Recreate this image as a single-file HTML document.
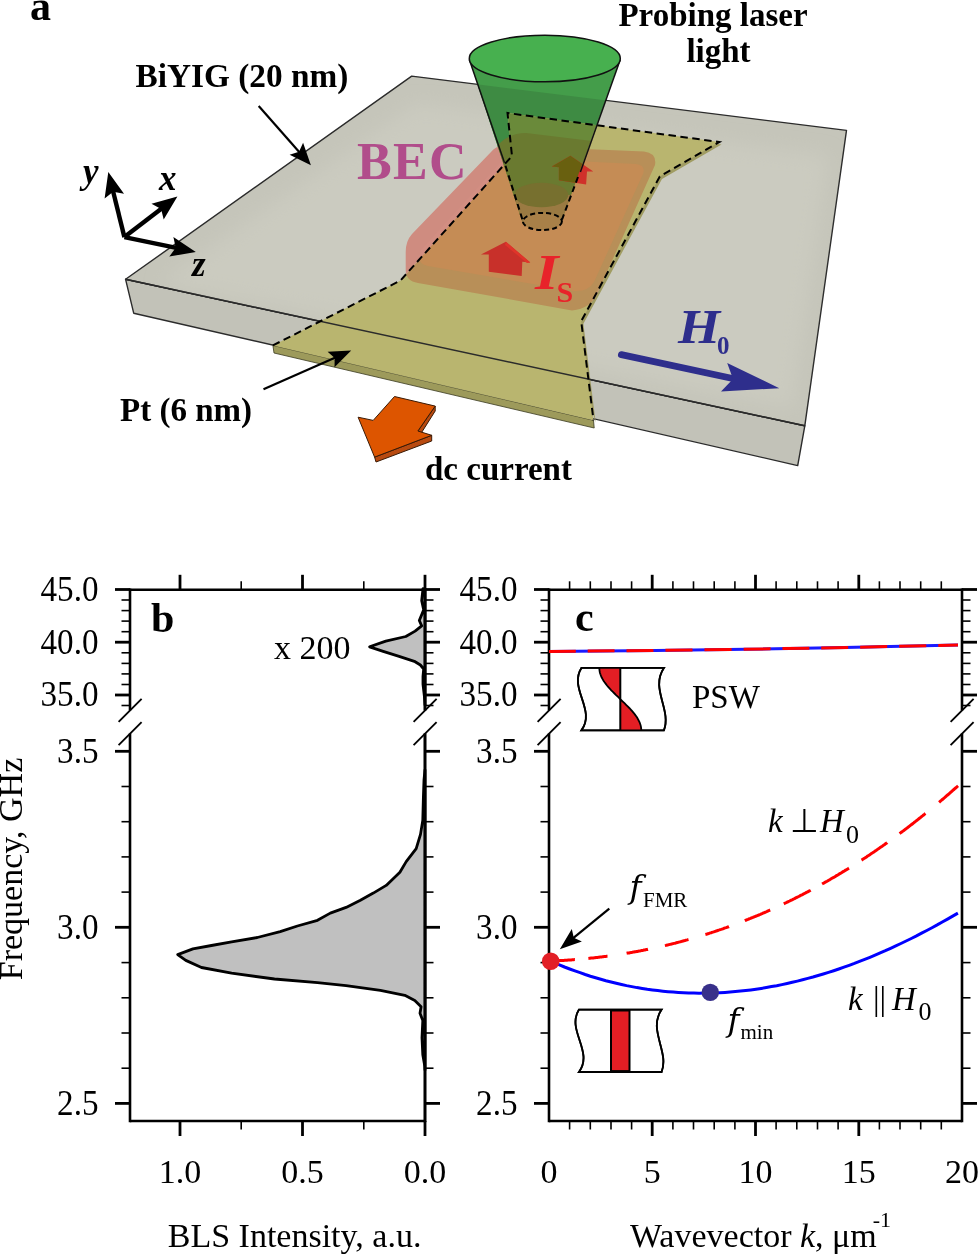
<!DOCTYPE html>
<html><head><meta charset="utf-8"><title>Figure</title><style>html,body{margin:0;padding:0;background:#fff;overflow:hidden}svg{display:block}</style></head><body>
<svg width="978" height="1254" viewBox="0 0 978 1254" font-family="'Liberation Serif', 'Times New Roman', serif"><defs>
<clipPath id="cSlab"><polygon points="411.7,76.1 846.5,130.4 804.8,425.8 125.6,279.3"/></clipPath>
<clipPath id="cPt"><polygon points="272.9,345.4 400.5,280.5 512,156 507.5,113 719.3,142 659.8,176.4 581.2,321.2 593.5,420.3"/></clipPath>
<clipPath id="cNoPt"><path clip-rule="evenodd" d="M0,0 H978 V560 H0 Z M272.9,345.4 L400.5,280.5 L512,156 L507.5,113 L719.3,142 L659.8,176.4 L581.2,321.2 L593.5,420.3 Z"/></clipPath>
<clipPath id="cCone"><polygon points="469.3,59.4 620.3,59.4 562,219.6 522.9,223.4"/></clipPath>
<clipPath id="cBec"><path d="M405.7,252 Q405.7,241 412,234 L491,152 Q496,145.5 505,145.7 L644,151.5 Q657,153 655,165 L598,292 Q591,309 572,310.4 L418,283 Q405.7,281 405.7,270 Z"/></clipPath>
<filter id="blur8" x="-20%" y="-20%" width="140%" height="140%"><feGaussianBlur stdDeviation="9"/></filter>
</defs>
<polygon points="125.6,279.3 804.8,425.8 797.7,465.6 133.7,313.2" fill="#c2c2b8" stroke="#2b2b2b" stroke-width="1.4" stroke-linejoin="round"/>
<polygon points="411.7,76.1 846.5,130.4 804.8,425.8 125.6,279.3" fill="#c5c5ba" stroke="#2b2b2b" stroke-width="1.4" stroke-linejoin="round"/>
<g clip-path="url(#cSlab)"><polygon points="416,104 828,156 792,408 160,283" fill="#cbcbc0" filter="url(#blur8)"/></g>
<polygon points="469.3,59.4 620.3,59.4 562,219.6 522.9,223.4" fill="#449d4a"/>
<g clip-path="url(#cSlab)"><polygon points="469.3,59.4 620.3,59.4 562,219.6 522.9,223.4" fill="#3e8b43"/></g>
<polygon points="272.9,345.4 593.5,420.3 594.2,428 274,353" fill="#9d9a5b" stroke="#3a3a20" stroke-width="0.8"/>
<polygon points="507.5,113 719.3,142 659.8,176.4 581.2,321.2 593.5,420.3" fill="#a09c62" transform="translate(2.2,2.5)"/>
<polygon points="272.9,345.4 400.5,280.5 512,156 507.5,113 719.3,142 659.8,176.4 581.2,321.2 593.5,420.3" fill="#b9b56f"/>
<g clip-path="url(#cCone)"><polygon points="272.9,345.4 400.5,280.5 512,156 507.5,113 719.3,142 659.8,176.4 581.2,321.2 593.5,420.3" fill="#6a8a3a"/></g>
<line x1="125.6" y1="279.3" x2="804.8" y2="425.8" stroke="#2b2b2b" stroke-width="1.4"/>
<g clip-path="url(#cNoPt)"><path d="M405.7,252 Q405.7,241 412,234 L491,152 Q496,145.5 505,145.7 L644,151.5 Q657,153 655,165 L598,292 Q591,309 572,310.4 L418,283 Q405.7,281 405.7,270 Z" fill="#cf8c80"/><path d="M421,250 L500,163 Q505,158 513,158 L636,164 Q646,165 643,174 L594,282 Q588,292 574,291 L428,266 Q419,264 419,257 Z" fill="#d28e82"/></g>
<g clip-path="url(#cPt)"><path d="M405.7,252 Q405.7,241 412,234 L491,152 Q496,145.5 505,145.7 L644,151.5 Q657,153 655,165 L598,292 Q591,309 572,310.4 L418,283 Q405.7,281 405.7,270 Z" fill="#b88f58"/><path d="M421,250 L500,163 Q505,158 513,158 L636,164 Q646,165 643,174 L594,282 Q588,292 574,291 L428,266 Q419,264 419,257 Z" fill="#c58c55"/></g>
<g clip-path="url(#cCone)"><path d="M405.7,252 Q405.7,241 412,234 L491,152 Q496,145.5 505,145.7 L644,151.5 Q657,153 655,165 L598,292 Q591,309 572,310.4 L418,283 Q405.7,281 405.7,270 Z" fill="#6a7a30"/><path d="M494,150 Q506,133 526,133 L600,142 L600,240 L494,240 Z" fill="#6a7a30"/></g>
<g clip-path="url(#cCone)"><rect x="460" y="195" width="170" height="40" fill="#9a7a42"/></g>
<ellipse cx="541.4" cy="195" rx="26.9" ry="12.3" fill="#77702f"/>
<ellipse cx="542.4" cy="221.5" rx="19.5" ry="8.6" fill="#a88048"/>
<polyline points="272.9,345.4 400.5,280.5 512,156 507.5,113 719.3,142 659.8,176.4 581.2,321.2 593.5,420.3" fill="none" stroke="#000" stroke-width="2" stroke-dasharray="7.5 4.5"/>
<polygon points="505.9,241.7 481,254.6 488.8,254.6 488.8,271.8 521.7,276.1 522.3,261.7 530.3,262.6" fill="#c8302a"/>
<polygon points="505.9,241.7 530.3,262.6 527,263 505,245" fill="#e0342a"/>
<polygon points="570.4,155.8 551.8,166.4 558.9,167.3 558.9,180.2 586.1,184.5 587,171.6 593.3,171.6" fill="#d0302a"/>
<g clip-path="url(#cCone)"><polygon points="570.4,155.8 551.8,166.4 558.9,167.3 558.9,180.2 586.1,184.5 587,171.6 593.3,171.6" fill="#69600f"/></g>
<line x1="469.3" y1="59.4" x2="504.5" y2="162.8" stroke="#111" stroke-width="1.5"/>
<line x1="620.3" y1="59.4" x2="580.4" y2="172" stroke="#111" stroke-width="1.5"/>
<line x1="505.5" y1="165.8" x2="522.9" y2="221" stroke="#000" stroke-width="2" stroke-dasharray="6 4"/>
<line x1="578" y1="177" x2="562" y2="219.6" stroke="#000" stroke-width="2" stroke-dasharray="6 4"/>
<ellipse cx="542.4" cy="221.5" rx="19.5" ry="8.6" fill="none" stroke="#000" stroke-width="2" stroke-dasharray="5 3"/>
<ellipse cx="544.8" cy="58.5" rx="75.5" ry="23.3" fill="#47b04f" stroke="#111" stroke-width="1.5"/>
<text x="30" y="19.5" font-size="42" font-weight="bold">a</text>
<text x="135.6" y="86.8" font-size="33.3" font-weight="bold">BiYIG (20 nm)</text>
<text x="713" y="26.3" font-size="33" font-weight="bold" text-anchor="middle">Probing laser</text>
<text x="718.5" y="61.9" font-size="33" font-weight="bold" text-anchor="middle">light</text>
<text x="357" y="179.4" font-size="52" font-weight="bold" fill="#b14d8b" letter-spacing="1.3">BEC</text>
<text x="120" y="421.1" font-size="33" font-weight="bold">Pt (6 nm)</text>
<text x="425" y="479.7" font-size="33" font-weight="bold">dc current</text>
<line x1="258.7" y1="106" x2="303.6" y2="157" stroke="#000" stroke-width="2.2"/><polygon points="310.9,165.3 289.6,154.7 299,151.8 303.1,142.8" fill="#000"/>
<line x1="263.5" y1="389.2" x2="341.1" y2="355" stroke="#000" stroke-width="2.2"/><polygon points="351.2,350.6 334.5,367.2 334.7,357.9 327.6,351.7" fill="#000"/>
<line x1="124.4" y1="237.1" x2="111.3" y2="184" stroke="#000" stroke-width="4.4"/><polygon points="108.3,171.9 124,193.8 113.2,191.8 104.6,198.6" fill="#000"/>
<line x1="124.4" y1="237.1" x2="167.5" y2="204" stroke="#000" stroke-width="4.4"/><polygon points="177.4,196.4 163.7,219.6 161.1,208.9 151.5,203.7" fill="#000"/>
<line x1="124.4" y1="237.1" x2="183.6" y2="249.4" stroke="#000" stroke-width="4.4"/><polygon points="195.8,251.9 169.3,256.6 175.7,247.7 173.4,237" fill="#000"/>
<text x="83" y="183" font-size="35" font-weight="bold" font-style="italic">y</text>
<text x="159" y="189.5" font-size="35" font-weight="bold" font-style="italic">x</text>
<text x="192" y="276" font-size="35" font-weight="bold" font-style="italic">z</text>
<line x1="621.3" y1="354.6" x2="735" y2="379" stroke="#2e2e8c" stroke-width="6.7" stroke-linecap="round"/>
<polygon points="779.3,388.3 727.2,362.9 733,379 721,391.4" fill="#2e2e8c"/>
<text transform="translate(678,343) scale(1.13,1)" font-size="48" font-weight="bold" font-style="italic" fill="#2e2e8c">H</text>
<text x="717" y="353.7" font-size="25" font-weight="bold" fill="#2e2e8c">0</text>
<text transform="translate(535,289) scale(1.21,1)" font-size="50" font-weight="bold" font-style="italic" fill="#e8232a">I</text>
<text x="556.5" y="301.5" font-size="30" font-weight="bold" fill="#e8232a">S</text>
<polygon points="374.6,457.1 431.7,435.3 431.7,441 376,462" fill="#b84a10" stroke="#3a1a05" stroke-width="1"/>
<polygon points="435.2,406.1 435.2,411 420,435 417.9,431" fill="#b84a10" stroke="#3a1a05" stroke-width="1"/>
<polygon points="374.6,457.1 358.1,417.2 373.2,420.4 394.5,396.5 435.2,406.1 417.9,431 431.7,435.3" fill="#dd5500" stroke="#3a1a05" stroke-width="1" stroke-linejoin="round"/>
<line x1="130" y1="588.5" x2="130" y2="710.4" stroke="#000" stroke-width="2.6"/><line x1="130" y1="733.6" x2="130" y2="1122.3" stroke="#000" stroke-width="2.6"/><line x1="118.6" y1="721.9" x2="141.6" y2="698.9" stroke="#000" stroke-width="1.8"/><line x1="118.6" y1="745.1" x2="141.6" y2="722.1" stroke="#000" stroke-width="1.8"/><line x1="425" y1="588.5" x2="425" y2="710.4" stroke="#000" stroke-width="2.6"/><line x1="425" y1="733.6" x2="425" y2="1122.3" stroke="#000" stroke-width="2.6"/><line x1="413.6" y1="721.9" x2="436.6" y2="698.9" stroke="#000" stroke-width="1.8"/><line x1="413.6" y1="745.1" x2="436.6" y2="722.1" stroke="#000" stroke-width="1.8"/><line x1="130" y1="589.8" x2="425" y2="589.8" stroke="#000" stroke-width="2.6"/><line x1="130" y1="1121" x2="425" y2="1121" stroke="#000" stroke-width="2.6"/><line x1="180" y1="589.8" x2="180" y2="574.8" stroke="#000" stroke-width="2.8"/><line x1="180" y1="1121" x2="180" y2="1136" stroke="#000" stroke-width="2.8"/><line x1="302.5" y1="589.8" x2="302.5" y2="574.8" stroke="#000" stroke-width="2.8"/><line x1="302.5" y1="1121" x2="302.5" y2="1136" stroke="#000" stroke-width="2.8"/><line x1="425" y1="589.8" x2="425" y2="574.8" stroke="#000" stroke-width="2.8"/><line x1="425" y1="1121" x2="425" y2="1136" stroke="#000" stroke-width="2.8"/><line x1="241.2" y1="589.8" x2="241.2" y2="581.3" stroke="#000" stroke-width="1.6"/><line x1="241.2" y1="1121" x2="241.2" y2="1129.5" stroke="#000" stroke-width="1.6"/><line x1="363.8" y1="589.8" x2="363.8" y2="581.3" stroke="#000" stroke-width="1.6"/><line x1="363.8" y1="1121" x2="363.8" y2="1129.5" stroke="#000" stroke-width="1.6"/><line x1="115" y1="589.5" x2="130" y2="589.5" stroke="#000" stroke-width="2.8"/><line x1="425" y1="589.5" x2="440" y2="589.5" stroke="#000" stroke-width="2.8"/><line x1="115" y1="642.2" x2="130" y2="642.2" stroke="#000" stroke-width="2.8"/><line x1="425" y1="642.2" x2="440" y2="642.2" stroke="#000" stroke-width="2.8"/><line x1="115" y1="695" x2="130" y2="695" stroke="#000" stroke-width="2.8"/><line x1="425" y1="695" x2="440" y2="695" stroke="#000" stroke-width="2.8"/><line x1="115" y1="751.3" x2="130" y2="751.3" stroke="#000" stroke-width="2.8"/><line x1="425" y1="751.3" x2="440" y2="751.3" stroke="#000" stroke-width="2.8"/><line x1="115" y1="927.3" x2="130" y2="927.3" stroke="#000" stroke-width="2.8"/><line x1="425" y1="927.3" x2="440" y2="927.3" stroke="#000" stroke-width="2.8"/><line x1="115" y1="1103.4" x2="130" y2="1103.4" stroke="#000" stroke-width="2.8"/><line x1="425" y1="1103.4" x2="440" y2="1103.4" stroke="#000" stroke-width="2.8"/><line x1="121.5" y1="705.5" x2="130" y2="705.5" stroke="#000" stroke-width="1.6"/><line x1="425" y1="705.5" x2="433.5" y2="705.5" stroke="#000" stroke-width="1.6"/><line x1="121.5" y1="684.5" x2="130" y2="684.5" stroke="#000" stroke-width="1.6"/><line x1="425" y1="684.5" x2="433.5" y2="684.5" stroke="#000" stroke-width="1.6"/><line x1="121.5" y1="673.9" x2="130" y2="673.9" stroke="#000" stroke-width="1.6"/><line x1="425" y1="673.9" x2="433.5" y2="673.9" stroke="#000" stroke-width="1.6"/><line x1="121.5" y1="663.4" x2="130" y2="663.4" stroke="#000" stroke-width="1.6"/><line x1="425" y1="663.4" x2="433.5" y2="663.4" stroke="#000" stroke-width="1.6"/><line x1="121.5" y1="652.8" x2="130" y2="652.8" stroke="#000" stroke-width="1.6"/><line x1="425" y1="652.8" x2="433.5" y2="652.8" stroke="#000" stroke-width="1.6"/><line x1="121.5" y1="631.7" x2="130" y2="631.7" stroke="#000" stroke-width="1.6"/><line x1="425" y1="631.7" x2="433.5" y2="631.7" stroke="#000" stroke-width="1.6"/><line x1="121.5" y1="621.1" x2="130" y2="621.1" stroke="#000" stroke-width="1.6"/><line x1="425" y1="621.1" x2="433.5" y2="621.1" stroke="#000" stroke-width="1.6"/><line x1="121.5" y1="610.6" x2="130" y2="610.6" stroke="#000" stroke-width="1.6"/><line x1="425" y1="610.6" x2="433.5" y2="610.6" stroke="#000" stroke-width="1.6"/><line x1="121.5" y1="600" x2="130" y2="600" stroke="#000" stroke-width="1.6"/><line x1="425" y1="600" x2="433.5" y2="600" stroke="#000" stroke-width="1.6"/><line x1="121.5" y1="1068.2" x2="130" y2="1068.2" stroke="#000" stroke-width="1.6"/><line x1="425" y1="1068.2" x2="433.5" y2="1068.2" stroke="#000" stroke-width="1.6"/><line x1="121.5" y1="1033" x2="130" y2="1033" stroke="#000" stroke-width="1.6"/><line x1="425" y1="1033" x2="433.5" y2="1033" stroke="#000" stroke-width="1.6"/><line x1="121.5" y1="997.8" x2="130" y2="997.8" stroke="#000" stroke-width="1.6"/><line x1="425" y1="997.8" x2="433.5" y2="997.8" stroke="#000" stroke-width="1.6"/><line x1="121.5" y1="962.6" x2="130" y2="962.6" stroke="#000" stroke-width="1.6"/><line x1="425" y1="962.6" x2="433.5" y2="962.6" stroke="#000" stroke-width="1.6"/><line x1="121.5" y1="892.1" x2="130" y2="892.1" stroke="#000" stroke-width="1.6"/><line x1="425" y1="892.1" x2="433.5" y2="892.1" stroke="#000" stroke-width="1.6"/><line x1="121.5" y1="856.9" x2="130" y2="856.9" stroke="#000" stroke-width="1.6"/><line x1="425" y1="856.9" x2="433.5" y2="856.9" stroke="#000" stroke-width="1.6"/><line x1="121.5" y1="821.7" x2="130" y2="821.7" stroke="#000" stroke-width="1.6"/><line x1="425" y1="821.7" x2="433.5" y2="821.7" stroke="#000" stroke-width="1.6"/><line x1="121.5" y1="786.5" x2="130" y2="786.5" stroke="#000" stroke-width="1.6"/><line x1="425" y1="786.5" x2="433.5" y2="786.5" stroke="#000" stroke-width="1.6"/>
<text transform="translate(98.5,600.8) scale(0.975,1.04)" text-anchor="end" font-size="34">45.0</text><text transform="translate(98.5,653.5) scale(0.975,1.04)" text-anchor="end" font-size="34">40.0</text><text transform="translate(98.5,706.3) scale(0.975,1.04)" text-anchor="end" font-size="34">35.0</text><text transform="translate(98.5,762.6) scale(0.975,1.04)" text-anchor="end" font-size="34">3.5</text><text transform="translate(98.5,938.6) scale(0.975,1.04)" text-anchor="end" font-size="34">3.0</text><text transform="translate(98.5,1114.7) scale(0.975,1.04)" text-anchor="end" font-size="34">2.5</text>
<text x="180" y="1182.8" text-anchor="middle" font-size="34">1.0</text>
<text x="302.5" y="1182.8" text-anchor="middle" font-size="34">0.5</text>
<text x="425" y="1182.8" text-anchor="middle" font-size="34">0.0</text>
<text x="294.6" y="1247.3" text-anchor="middle" font-size="34">BLS Intensity, a.u.</text>
<text transform="translate(22.3,869) rotate(-90)" text-anchor="middle" font-size="34">Frequency, GHz</text>
<text x="151" y="632" font-size="42" font-weight="bold">b</text>
<text x="274" y="658.9" font-size="34">x 200</text>
<polygon points="425,589.5 423,588.6 421.7,600.6 423.7,609.9 419.3,620.5 421.7,625.8 415.1,631.1 405.8,636.5 385.8,641.1 369.6,646.8 383.2,651.4 399.1,656.4 415.1,661.7 420.4,665 423.7,669 423,676.3 423,684.3 424.4,696.3 425,705" fill="#c0c0c0" stroke="#000" stroke-width="2.8" stroke-linejoin="round"/>
<polygon points="425,770 424,780 423.4,797.2 422.8,820.1 420.5,834.4 416.2,848.7 406.2,861.6 399.9,872.2 386.2,885.4 373.3,893.1 360.4,900.2 346.1,907.4 330.3,913.1 317.5,920.3 297.4,926 280.2,931.7 257.3,937.5 231.6,941.8 211.5,945.5 192.9,948.9 177.7,954.6 185.8,960.4 201.5,967.5 231.6,973.2 274.5,979 317.5,982.7 346.1,985.6 380.4,990.4 404.8,995.3 414.8,1000.4 421.1,1006.7 420,1013.3 422.8,1020.5 422,1037.7 422.8,1054.8 424.8,1066.3 425,1070" fill="#c0c0c0" stroke="#000" stroke-width="2.8" stroke-linejoin="round"/>
<line x1="425" y1="588" x2="425" y2="710.4" stroke="#000" stroke-width="2.6"/>
<line x1="425" y1="733.6" x2="425" y2="1122" stroke="#000" stroke-width="2.6"/>
<line x1="549" y1="588.5" x2="549" y2="710.4" stroke="#000" stroke-width="2.6"/><line x1="549" y1="733.6" x2="549" y2="1122.3" stroke="#000" stroke-width="2.6"/><line x1="537.6" y1="721.9" x2="560.6" y2="698.9" stroke="#000" stroke-width="1.8"/><line x1="537.6" y1="745.1" x2="560.6" y2="722.1" stroke="#000" stroke-width="1.8"/><line x1="962" y1="588.5" x2="962" y2="710.4" stroke="#000" stroke-width="2.6"/><line x1="962" y1="733.6" x2="962" y2="1122.3" stroke="#000" stroke-width="2.6"/><line x1="950.6" y1="721.9" x2="973.6" y2="698.9" stroke="#000" stroke-width="1.8"/><line x1="950.6" y1="745.1" x2="973.6" y2="722.1" stroke="#000" stroke-width="1.8"/><line x1="549" y1="589.8" x2="962" y2="589.8" stroke="#000" stroke-width="2.6"/><line x1="549" y1="1121" x2="962" y2="1121" stroke="#000" stroke-width="2.6"/><line x1="652.2" y1="589.8" x2="652.2" y2="574.8" stroke="#000" stroke-width="2.8"/><line x1="652.2" y1="1121" x2="652.2" y2="1136" stroke="#000" stroke-width="2.8"/><line x1="755.5" y1="589.8" x2="755.5" y2="574.8" stroke="#000" stroke-width="2.8"/><line x1="755.5" y1="1121" x2="755.5" y2="1136" stroke="#000" stroke-width="2.8"/><line x1="858.8" y1="589.8" x2="858.8" y2="574.8" stroke="#000" stroke-width="2.8"/><line x1="858.8" y1="1121" x2="858.8" y2="1136" stroke="#000" stroke-width="2.8"/><line x1="569.6" y1="589.8" x2="569.6" y2="581.3" stroke="#000" stroke-width="1.6"/><line x1="569.6" y1="1121" x2="569.6" y2="1129.5" stroke="#000" stroke-width="1.6"/><line x1="590.3" y1="589.8" x2="590.3" y2="581.3" stroke="#000" stroke-width="1.6"/><line x1="590.3" y1="1121" x2="590.3" y2="1129.5" stroke="#000" stroke-width="1.6"/><line x1="611" y1="589.8" x2="611" y2="581.3" stroke="#000" stroke-width="1.6"/><line x1="611" y1="1121" x2="611" y2="1129.5" stroke="#000" stroke-width="1.6"/><line x1="631.6" y1="589.8" x2="631.6" y2="581.3" stroke="#000" stroke-width="1.6"/><line x1="631.6" y1="1121" x2="631.6" y2="1129.5" stroke="#000" stroke-width="1.6"/><line x1="672.9" y1="589.8" x2="672.9" y2="581.3" stroke="#000" stroke-width="1.6"/><line x1="672.9" y1="1121" x2="672.9" y2="1129.5" stroke="#000" stroke-width="1.6"/><line x1="693.5" y1="589.8" x2="693.5" y2="581.3" stroke="#000" stroke-width="1.6"/><line x1="693.5" y1="1121" x2="693.5" y2="1129.5" stroke="#000" stroke-width="1.6"/><line x1="714.2" y1="589.8" x2="714.2" y2="581.3" stroke="#000" stroke-width="1.6"/><line x1="714.2" y1="1121" x2="714.2" y2="1129.5" stroke="#000" stroke-width="1.6"/><line x1="734.9" y1="589.8" x2="734.9" y2="581.3" stroke="#000" stroke-width="1.6"/><line x1="734.9" y1="1121" x2="734.9" y2="1129.5" stroke="#000" stroke-width="1.6"/><line x1="776.1" y1="589.8" x2="776.1" y2="581.3" stroke="#000" stroke-width="1.6"/><line x1="776.1" y1="1121" x2="776.1" y2="1129.5" stroke="#000" stroke-width="1.6"/><line x1="796.8" y1="589.8" x2="796.8" y2="581.3" stroke="#000" stroke-width="1.6"/><line x1="796.8" y1="1121" x2="796.8" y2="1129.5" stroke="#000" stroke-width="1.6"/><line x1="817.5" y1="589.8" x2="817.5" y2="581.3" stroke="#000" stroke-width="1.6"/><line x1="817.5" y1="1121" x2="817.5" y2="1129.5" stroke="#000" stroke-width="1.6"/><line x1="838.1" y1="589.8" x2="838.1" y2="581.3" stroke="#000" stroke-width="1.6"/><line x1="838.1" y1="1121" x2="838.1" y2="1129.5" stroke="#000" stroke-width="1.6"/><line x1="879.4" y1="589.8" x2="879.4" y2="581.3" stroke="#000" stroke-width="1.6"/><line x1="879.4" y1="1121" x2="879.4" y2="1129.5" stroke="#000" stroke-width="1.6"/><line x1="900" y1="589.8" x2="900" y2="581.3" stroke="#000" stroke-width="1.6"/><line x1="900" y1="1121" x2="900" y2="1129.5" stroke="#000" stroke-width="1.6"/><line x1="920.7" y1="589.8" x2="920.7" y2="581.3" stroke="#000" stroke-width="1.6"/><line x1="920.7" y1="1121" x2="920.7" y2="1129.5" stroke="#000" stroke-width="1.6"/><line x1="941.3" y1="589.8" x2="941.3" y2="581.3" stroke="#000" stroke-width="1.6"/><line x1="941.3" y1="1121" x2="941.3" y2="1129.5" stroke="#000" stroke-width="1.6"/><line x1="534" y1="589.5" x2="549" y2="589.5" stroke="#000" stroke-width="2.8"/><line x1="962" y1="589.5" x2="977" y2="589.5" stroke="#000" stroke-width="2.8"/><line x1="534" y1="642.2" x2="549" y2="642.2" stroke="#000" stroke-width="2.8"/><line x1="962" y1="642.2" x2="977" y2="642.2" stroke="#000" stroke-width="2.8"/><line x1="534" y1="695" x2="549" y2="695" stroke="#000" stroke-width="2.8"/><line x1="962" y1="695" x2="977" y2="695" stroke="#000" stroke-width="2.8"/><line x1="534" y1="751.3" x2="549" y2="751.3" stroke="#000" stroke-width="2.8"/><line x1="962" y1="751.3" x2="977" y2="751.3" stroke="#000" stroke-width="2.8"/><line x1="534" y1="927.3" x2="549" y2="927.3" stroke="#000" stroke-width="2.8"/><line x1="962" y1="927.3" x2="977" y2="927.3" stroke="#000" stroke-width="2.8"/><line x1="534" y1="1103.4" x2="549" y2="1103.4" stroke="#000" stroke-width="2.8"/><line x1="962" y1="1103.4" x2="977" y2="1103.4" stroke="#000" stroke-width="2.8"/><line x1="540.5" y1="705.5" x2="549" y2="705.5" stroke="#000" stroke-width="1.6"/><line x1="962" y1="705.5" x2="970.5" y2="705.5" stroke="#000" stroke-width="1.6"/><line x1="540.5" y1="684.5" x2="549" y2="684.5" stroke="#000" stroke-width="1.6"/><line x1="962" y1="684.5" x2="970.5" y2="684.5" stroke="#000" stroke-width="1.6"/><line x1="540.5" y1="673.9" x2="549" y2="673.9" stroke="#000" stroke-width="1.6"/><line x1="962" y1="673.9" x2="970.5" y2="673.9" stroke="#000" stroke-width="1.6"/><line x1="540.5" y1="663.4" x2="549" y2="663.4" stroke="#000" stroke-width="1.6"/><line x1="962" y1="663.4" x2="970.5" y2="663.4" stroke="#000" stroke-width="1.6"/><line x1="540.5" y1="652.8" x2="549" y2="652.8" stroke="#000" stroke-width="1.6"/><line x1="962" y1="652.8" x2="970.5" y2="652.8" stroke="#000" stroke-width="1.6"/><line x1="540.5" y1="631.7" x2="549" y2="631.7" stroke="#000" stroke-width="1.6"/><line x1="962" y1="631.7" x2="970.5" y2="631.7" stroke="#000" stroke-width="1.6"/><line x1="540.5" y1="621.1" x2="549" y2="621.1" stroke="#000" stroke-width="1.6"/><line x1="962" y1="621.1" x2="970.5" y2="621.1" stroke="#000" stroke-width="1.6"/><line x1="540.5" y1="610.6" x2="549" y2="610.6" stroke="#000" stroke-width="1.6"/><line x1="962" y1="610.6" x2="970.5" y2="610.6" stroke="#000" stroke-width="1.6"/><line x1="540.5" y1="600" x2="549" y2="600" stroke="#000" stroke-width="1.6"/><line x1="962" y1="600" x2="970.5" y2="600" stroke="#000" stroke-width="1.6"/><line x1="540.5" y1="1068.2" x2="549" y2="1068.2" stroke="#000" stroke-width="1.6"/><line x1="962" y1="1068.2" x2="970.5" y2="1068.2" stroke="#000" stroke-width="1.6"/><line x1="540.5" y1="1033" x2="549" y2="1033" stroke="#000" stroke-width="1.6"/><line x1="962" y1="1033" x2="970.5" y2="1033" stroke="#000" stroke-width="1.6"/><line x1="540.5" y1="997.8" x2="549" y2="997.8" stroke="#000" stroke-width="1.6"/><line x1="962" y1="997.8" x2="970.5" y2="997.8" stroke="#000" stroke-width="1.6"/><line x1="540.5" y1="962.6" x2="549" y2="962.6" stroke="#000" stroke-width="1.6"/><line x1="962" y1="962.6" x2="970.5" y2="962.6" stroke="#000" stroke-width="1.6"/><line x1="540.5" y1="892.1" x2="549" y2="892.1" stroke="#000" stroke-width="1.6"/><line x1="962" y1="892.1" x2="970.5" y2="892.1" stroke="#000" stroke-width="1.6"/><line x1="540.5" y1="856.9" x2="549" y2="856.9" stroke="#000" stroke-width="1.6"/><line x1="962" y1="856.9" x2="970.5" y2="856.9" stroke="#000" stroke-width="1.6"/><line x1="540.5" y1="821.7" x2="549" y2="821.7" stroke="#000" stroke-width="1.6"/><line x1="962" y1="821.7" x2="970.5" y2="821.7" stroke="#000" stroke-width="1.6"/><line x1="540.5" y1="786.5" x2="549" y2="786.5" stroke="#000" stroke-width="1.6"/><line x1="962" y1="786.5" x2="970.5" y2="786.5" stroke="#000" stroke-width="1.6"/>
<text transform="translate(517.5,600.8) scale(0.975,1.04)" text-anchor="end" font-size="34">45.0</text><text transform="translate(517.5,653.5) scale(0.975,1.04)" text-anchor="end" font-size="34">40.0</text><text transform="translate(517.5,706.3) scale(0.975,1.04)" text-anchor="end" font-size="34">35.0</text><text transform="translate(517.5,762.6) scale(0.975,1.04)" text-anchor="end" font-size="34">3.5</text><text transform="translate(517.5,938.6) scale(0.975,1.04)" text-anchor="end" font-size="34">3.0</text><text transform="translate(517.5,1114.7) scale(0.975,1.04)" text-anchor="end" font-size="34">2.5</text>
<text x="549" y="1182.8" text-anchor="middle" font-size="34">0</text>
<text x="652.2" y="1182.8" text-anchor="middle" font-size="34">5</text>
<text x="755.5" y="1182.8" text-anchor="middle" font-size="34">10</text>
<text x="858.8" y="1182.8" text-anchor="middle" font-size="34">15</text>
<text x="962" y="1182.8" text-anchor="middle" font-size="34">20</text>
<text x="630" y="1246.5" font-size="34">Wavevector <tspan font-style="italic">k</tspan>, μm<tspan font-size="22" dx="-4" dy="-20">-1</tspan></text>
<text x="575" y="631.3" font-size="42" font-weight="bold">c</text>
<path d="M549,651.4 Q750,650 958,645" fill="none" stroke="#1a1aff" stroke-width="3"/>
<path d="M549,651.4 Q750,650 958,645" fill="none" stroke="#ff0000" stroke-width="3" stroke-dasharray="27 11.95"/>
<polyline points="549,960.5 554.2,962.8 559.4,964.9 564.5,967 569.7,969 574.9,970.9 580.1,972.7 585.2,974.5 590.4,976.2 595.6,977.7 600.8,979.2 605.9,980.7 611.1,982 616.3,983.3 621.5,984.5 626.6,985.6 631.8,986.6 637,987.6 642.2,988.4 647.3,989.3 652.5,990 657.7,990.6 662.9,991.2 668,991.7 673.2,992.1 678.4,992.5 683.6,992.8 688.7,993 693.9,993.1 699.1,993.2 704.3,993.1 709.4,993.1 714.6,992.9 719.8,992.7 725,992.4 730.1,992 735.3,991.6 740.5,991.1 745.7,990.5 750.8,989.9 756,989.2 761.2,988.4 766.4,987.5 771.5,986.6 776.7,985.7 781.9,984.6 787.1,983.5 792.3,982.3 797.4,981.1 802.6,979.8 807.8,978.4 813,977 818.1,975.5 823.3,974 828.5,972.4 833.7,970.7 838.8,969 844,967.2 849.2,965.3 854.4,963.4 859.5,961.4 864.7,959.4 869.9,957.3 875.1,955.1 880.2,952.9 885.4,950.7 890.6,948.3 895.8,945.9 900.9,943.5 906.1,941 911.3,938.5 916.5,935.9 921.6,933.2 926.8,930.5 932,927.7 937.2,924.9 942.3,922 947.5,919.1 952.7,916.1 957.9,913.1" fill="none" stroke="#0000ff" stroke-width="3"/>
<path d="M549,961.1 L549.8,961.1 L550.7,961.1 L551.5,961 L552.3,961 L553.1,961 L554,960.9 L554.8,960.9 L555.6,960.8 L556.4,960.8 L557.3,960.8 L558.1,960.7 L558.9,960.7 L559.7,960.6 L560.6,960.6 L561.4,960.5 L562.2,960.5 L563,960.4 L563.9,960.4 L564.7,960.3 L565.5,960.3 L566.3,960.2 L567.2,960.2 L568,960.1 L568.8,960.1 L569.6,960 L570.5,959.9 L571.3,959.9 L572.1,959.8 L573,959.8 L573.8,959.7 L574.6,959.6 L574.9,959.6M588.4,958.4 L589.3,958.3 L590.1,958.2 L590.9,958.1 L591.7,958 L592.6,958 L593.4,957.9 L594.2,957.8 L595,957.7 L595.9,957.6 L596.7,957.5 L597.5,957.4 L598.4,957.3 L599.2,957.2 L600,957.1 L600.8,957 L601.7,956.9 L602.5,956.8 L603.3,956.7 L604.1,956.6 L605,956.5 L605.8,956.4 L606.6,956.3 L607.4,956.2 L607.5,956.2M626.6,953.3 L627.5,953.1 L628.3,953 L629.1,952.9 L629.9,952.7 L630.8,952.6 L631.6,952.4 L632.4,952.3 L633.3,952.1 L634.1,952 L634.9,951.8 L635.7,951.7 L636.6,951.5 L637.4,951.4 L638.2,951.2 L639,951.1 L639.9,950.9 L640.7,950.8 L641.5,950.6 L642.3,950.5 L643.2,950.3 L644,950.1 L644.8,950 L645.6,949.8 L646.5,949.6 L647.3,949.5 L648,949.3M664.9,945.6 L665.8,945.4 L666.6,945.2 L667.4,945 L668.3,944.8 L669.1,944.6 L669.9,944.4 L670.7,944.2 L671.6,944 L672.4,943.8 L673.2,943.6 L674,943.4 L674.9,943.2 L675.7,943 L676.5,942.7 L677.3,942.5 L678.2,942.3 L679,942.1 L679.8,941.9 L680.6,941.7 L681.5,941.4 L682.3,941.2 L683.1,941 L683.9,940.8 L684.8,940.6 L685.6,940.3 L686.4,940.1 L687.3,939.9 L688.1,939.6 L688.5,939.5M705.4,934.5 L706.2,934.3 L707.1,934 L707.9,933.7 L708.7,933.5 L709.6,933.2 L710.4,932.9 L711.2,932.7 L712,932.4 L712.9,932.1 L713.7,931.9 L714.5,931.6 L715.3,931.3 L716.2,931 L717,930.8 L717.8,930.5 L718.6,930.2 L719.5,929.9 L720.3,929.6 L721.1,929.4 L721.9,929.1 L722.8,928.8 L723.6,928.5 L724.4,928.2 L725.2,927.9 L726.1,927.6 L726.9,927.3 L727.7,927 L728.6,926.8 L729,926.6M744.8,920.7 L745.6,920.3 L746.4,920 L747.2,919.7 L748.1,919.4 L748.9,919 L749.7,918.7 L750.5,918.4 L751.4,918 L752.2,917.7 L753,917.4 L753.8,917 L754.7,916.7 L755.5,916.3 L756.3,916 L757.2,915.7 L758,915.3 L758.8,915 L759.6,914.6 L760.5,914.3 L761.3,913.9 L762.1,913.6 L762.9,913.2 L763.8,912.8 L764.6,912.5 L765.4,912.1 L766.2,911.8 L767.1,911.4 L767.9,911 L768.7,910.7 L769.5,910.3 L770.2,910M783.8,903.8 L784.6,903.4 L785.4,903 L786.3,902.6 L787.1,902.2 L787.9,901.8 L788.7,901.4 L789.6,901 L790.4,900.6 L791.2,900.2 L792.1,899.8 L792.9,899.4 L793.7,899 L794.5,898.6 L795.4,898.1 L796.2,897.7 L797,897.3 L797.8,896.9 L798.7,896.5 L799.5,896.1 L800.3,895.6 L801.1,895.2 L802,894.8 L802.8,894.4 L803.6,893.9 L804.4,893.5 L805.3,893.1 L806.1,892.6 L806.9,892.2 L807.7,891.8 L808.6,891.3 L809.4,890.9 L810.2,890.5 L810.7,890.2M822.1,884 L822.9,883.5 L823.7,883.1 L824.6,882.6 L825.4,882.1 L826.2,881.7 L827.1,881.2 L827.9,880.7 L828.7,880.2 L829.5,879.8 L830.4,879.3 L831.2,878.8 L832,878.3 L832.8,877.8 L833.7,877.4 L834.5,876.9 L835.3,876.4 L836.1,875.9 L837,875.4 L837.8,874.9 L838.6,874.4 L839.4,873.9 L840.3,873.4 L841.1,872.9 L841.9,872.4 L842.7,871.9 L843.6,871.4 L844.4,870.9 L845.2,870.4 L846.1,869.9 L846.9,869.4 L847.7,868.9 L848.5,868.4 L849,868.1M861.5,860.1 L862.4,859.6 L863.2,859 L864,858.5 L864.8,858 L865.7,857.4 L866.5,856.9 L867.3,856.3 L868.1,855.8 L869,855.2 L869.8,854.7 L870.6,854.1 L871.4,853.5 L872.3,853 L873.1,852.4 L873.9,851.9 L874.8,851.3 L875.6,850.7 L876.4,850.2 L877.2,849.6 L878.1,849 L878.9,848.5 L879.7,847.9 L880.5,847.3 L881.4,846.7 L882.2,846.2 L883,845.6 L883.8,845 L884.7,844.4 L885.5,843.8 L886.3,843.2 L887.1,842.7 L887.2,842.6M899.6,833.6 L900.5,832.9 L901.3,832.3 L902.1,831.7 L902.9,831.1 L903.8,830.5 L904.6,829.8 L905.4,829.2 L906.2,828.6 L907.1,828 L907.9,827.3 L908.7,826.7 L909.5,826.1 L910.4,825.4 L911.2,824.8 L912,824.2 L912.9,823.5 L913.7,822.9 L914.5,822.2 L915.3,821.6 L916.2,820.9 L917,820.3 L917.8,819.6 L918.6,819 L919.5,818.3 L920.3,817.7 L921.1,817 L921.9,816.4 L922.8,815.7 L923.6,815 L924.4,814.4 L925.2,813.7 L925.5,813.5M939.1,802.3 L939.9,801.6 L940.7,800.9 L941.6,800.2 L942.4,799.5 L943.2,798.8 L944,798.1 L944.9,797.4 L945.7,796.7 L946.5,795.9 L947.3,795.2 L948.2,794.5 L949,793.8 L949.8,793.1 L950.6,792.4 L951.5,791.6 L952.3,790.9 L953.1,790.2 L953.9,789.5 L954.8,788.7 L955.6,788 L956.4,787.3 L957.3,786.5 L958.1,785.8 L958.1,785.8" fill="none" stroke="#ff0000" stroke-width="3"/>
<circle cx="550.7" cy="961.2" r="8.8" fill="#e21f26"/>
<circle cx="710.3" cy="992.4" r="8.7" fill="#38308a"/>
<line x1="609.3" y1="908.7" x2="568.3" y2="942.2" stroke="#000" stroke-width="2.2"/><polygon points="559.8,949.2 571.8,929.1 573.8,937.8 581.9,941.5" fill="#000"/>
<text x="629.5" y="898.3" font-size="32.5" font-style="italic" font-family="'DejaVu Serif', serif">f</text><text x="643" y="906.5" font-size="21">FMR</text>
<text x="727.6" y="1031" font-size="32.5" font-style="italic" font-family="'DejaVu Serif', serif">f</text><text x="740.5" y="1038.5" font-size="21">min</text>
<text y="832" font-size="33"><tspan x="768" font-style="italic">k</tspan><tspan x="790">⊥</tspan><tspan x="820" font-style="italic">H</tspan><tspan x="846" y="842.5" font-size="26">0</tspan></text>
<text y="1010" font-size="33"><tspan x="848" font-style="italic">k</tspan><tspan x="873">||</tspan><tspan x="892" font-style="italic">H</tspan><tspan x="918.5" y="1020.3" font-size="26">0</tspan></text>
<text x="692" y="708" font-size="33">PSW</text>
<path d="M581.4,667.9 L663.9,667.9 C649.9,688.5 671.9,709.8 663.9,730.4 L581.4,730.4 C596.4,709.8 568.4,688.5 581.4,667.9 Z" fill="#fff" stroke="#000" stroke-width="1.8"/>
<path d="M580,667.9 L620.3,667.9 L620.3,730.4 L580,730.4" fill="none"/>
<polygon points="599.3,667.9 599.4,669.5 599.6,671.1 599.9,672.7 600.4,674.3 601,675.9 601.7,677.5 602.6,679.1 603.5,680.7 604.6,682.3 605.8,683.9 607,685.5 608.4,687.1 609.8,688.7 611.3,690.3 612.9,691.9 614.5,693.5 616.1,695.1 617.8,696.7 619.5,698.3 621.1,700 622.8,701.6 624.5,703.2 626.1,704.8 627.7,706.4 629.3,708 630.8,709.6 632.2,711.2 633.6,712.8 634.8,714.4 636,716 637.1,717.6 638,719.2 638.9,720.8 639.6,722.4 640.2,724 640.7,725.6 641,727.2 641.2,728.8 641.3,730.4 620.3,730.4 620.3,667.9" fill="#e31e24"/>
<polyline points="599.3,667.9 599.4,669.5 599.6,671.1 599.9,672.7 600.4,674.3 601,675.9 601.7,677.5 602.6,679.1 603.5,680.7 604.6,682.3 605.8,683.9 607,685.5 608.4,687.1 609.8,688.7 611.3,690.3 612.9,691.9 614.5,693.5 616.1,695.1 617.8,696.7 619.5,698.3 621.1,700 622.8,701.6 624.5,703.2 626.1,704.8 627.7,706.4 629.3,708 630.8,709.6 632.2,711.2 633.6,712.8 634.8,714.4 636,716 637.1,717.6 638,719.2 638.9,720.8 639.6,722.4 640.2,724 640.7,725.6 641,727.2 641.2,728.8 641.3,730.4" fill="none" stroke="#000" stroke-width="1.8"/>
<line x1="620.3" y1="667.9" x2="620.3" y2="730.4" stroke="#000" stroke-width="2"/>
<path d="M581.4,667.9 L663.9,667.9 C649.9,688.5 671.9,709.8 663.9,730.4 L581.4,730.4 C596.4,709.8 568.4,688.5 581.4,667.9 Z" fill="none" stroke="#000" stroke-width="1.8"/>
<path d="M579,1009.6 L661.6,1009.6 C647.6,1030.2 669.6,1051.4 661.6,1072 L579,1072 C594,1051.4 566,1030.2 579,1009.6 Z" fill="#fff" stroke="#000" stroke-width="1.8"/>
<rect x="611" y="1010.5" width="18.5" height="60.6" fill="#e31e24" stroke="#000" stroke-width="2"/>
<path d="M579,1009.6 L661.6,1009.6 C647.6,1030.2 669.6,1051.4 661.6,1072 L579,1072 C594,1051.4 566,1030.2 579,1009.6 Z" fill="none" stroke="#000" stroke-width="1.8"/></svg>
</body></html>
